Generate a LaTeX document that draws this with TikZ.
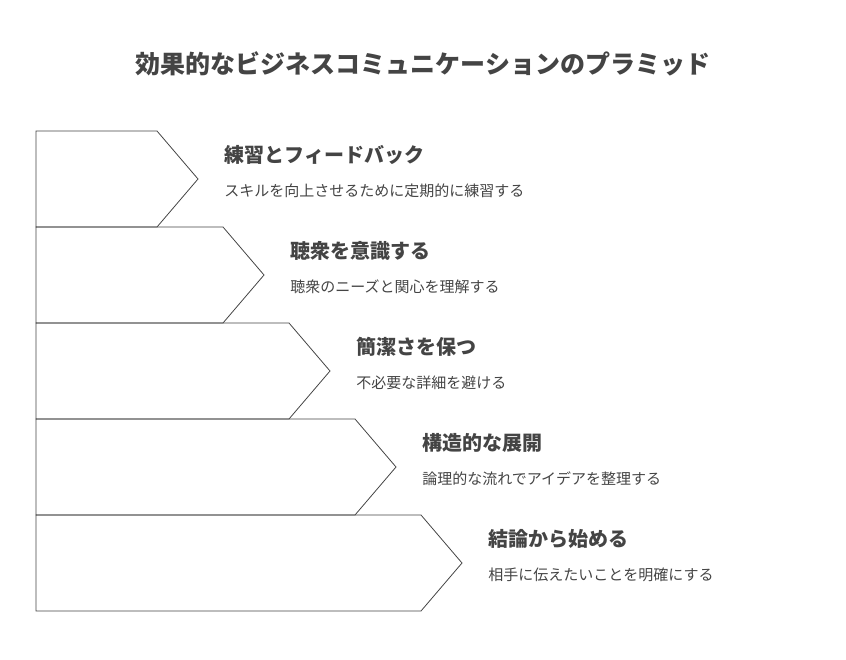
\documentclass[tikz,border=0pt]{standalone}
\usepackage{fontspec}
\setmainfont{Noto Sans CJK JP}
\usetikzlibrary{positioning}
\definecolor{inkgray}{HTML}{444444}

\begin{document}
\begin{tikzpicture}[
    x = 1pt,
    y = -1pt,
    line width = 0.8pt
]

% Setup the styles for the labels
\tikzset{
    heading/.style={anchor=west, text=inkgray, font=\bfseries\fontsize{20}{24}\selectfont, inner sep=0pt},
    subtext/.style={anchor=west, text=inkgray, font=\fontsize{15}{18}\selectfont, inner sep=0pt}
}

\useasboundingbox (0,0) rectangle (846,660);

% Draw the title
\node[font=\bfseries\fontsize{25}{30}\selectfont, text=inkgray] (title) at (423,64) {効果的なビジネスコミュニケーションのプラミッド};

% Draw the steps
\foreach \i/\head/\body in {
    0/練習とフィードバック/スキルを向上させるために定期的に練習する,
    1/聴衆を意識する/聴衆のニーズと関心を理解する,
    2/簡潔さを保つ/不必要な詳細を避ける,
    3/構造的な展開/論理的な流れでアイデアを整理する,
    4/結論から始める/相手に伝えたいことを明確にする}
{
    \pgfmathsetmacro{\ytop}{131+96*\i}
    \pgfmathsetmacro{\flat}{157+66*\i}
    \draw[draw=inkgray] (36,\ytop) -- (\flat,\ytop) -- (\flat+41,\ytop+48)
        -- (\flat,\ytop+96) -- (36,\ytop+96) -- cycle;
    \node[heading] (head\i) at (\flat+67,\ytop+24) {\head};
    \node[subtext] (body\i) at (\flat+67,\ytop+60) {\body};
}

\end{tikzpicture}
\end{document}
